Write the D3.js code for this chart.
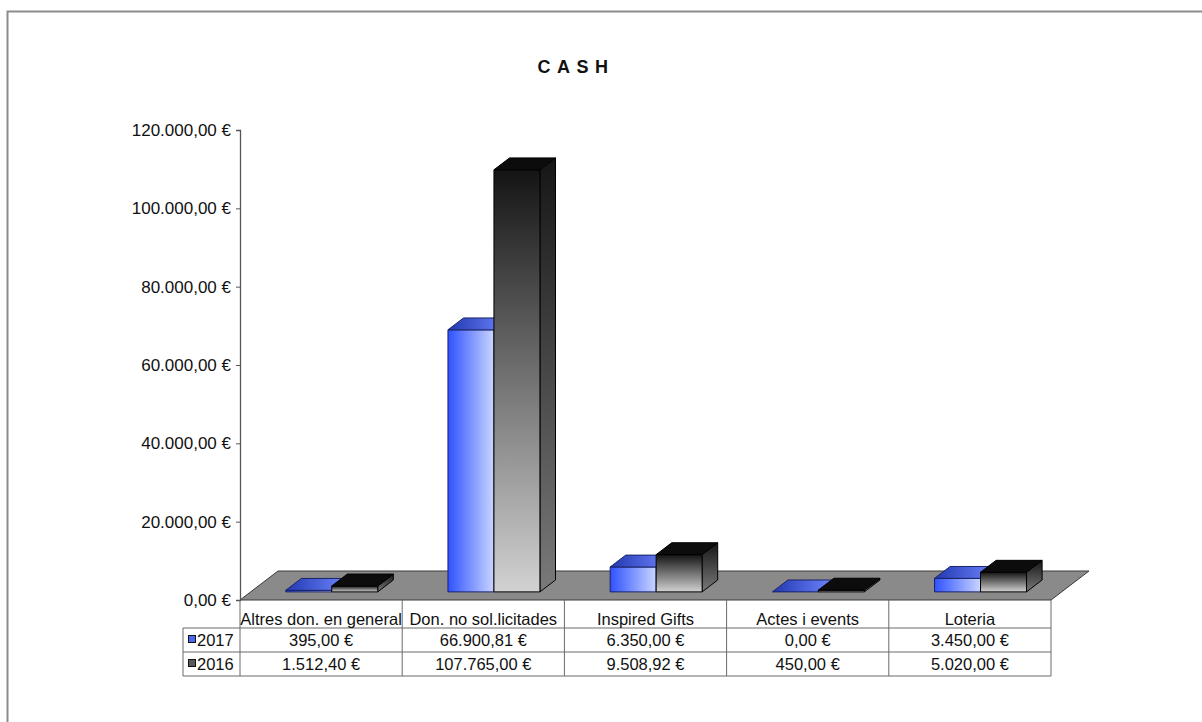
<!DOCTYPE html>
<head>
  <meta charset="utf-8">
  <title>CASH</title>
  <script src="https://cdn.jsdelivr.net/npm/d3@7/dist/d3.min.js"></script>
</head>

<style>
  body {
    margin: 0;
    background: #fff;
  }

  svg text {
    font-family: "Liberation Sans", Arial, sans-serif;
    fill: #111;
  }

  .cell {
    font-size: 16.5px;
  }

  .title {
    font-size: 18px;
    font-weight: bold;
    letter-spacing: 6.5px;
  }

  .grid-line {
    stroke: #6a6a6a;
    stroke-width: 1;
  }
</style>

<body>
  <svg id='chart'></svg>
</body>

<script>

var width = 1202,
    height = 722;

var categories = ['Altres don. en general', 'Don. no sol.licitades', 'Inspired Gifts', 'Actes i events', 'Loteria'];
var series = ['2017', '2016'];
var values_2017 = [395, 66900.81, 6350, 0, 3450];
var values_2016 = [1512.40, 107765, 9508.92, 450, 5020];
var y_ticks = [0, 20000, 40000, 60000, 80000, 100000, 120000];

var series_values = {'2017': values_2017, '2016': values_2016};

var locale = d3.formatLocale({decimal: ',', thousands: '.', grouping: [3], currency: ['', ' €']});
var euro = locale.format('$,.2f');

// 3d look: depth vector of the floor, bars sit between d0 and d1
var depth = {dx: 38, dy: -29},
    d0 = 0.28,
    d1 = 0.69,
    cluster_frac = 0.567;

var svg = d3.select('#chart')
  .attr('width', width)
  .attr('height', height);

var defs = svg.append('defs');

function lin_grad(id, x2, y2, stops) {
  var g = defs.append('linearGradient')
    .attr('id', id)
    .attr('x1', 0).attr('y1', 0)
    .attr('x2', x2).attr('y2', y2);
  stops.forEach(function(s) {
    g.append('stop').attr('offset', s[0]).attr('stop-color', s[1]);
  });
}

lin_grad('blue-front', 1, 0, [[0, '#2f52ff'], [1, '#c9d5ff']]);
lin_grad('blue-top', 1, 0, [[0, '#2238b0'], [1, '#6f86ff']]);
lin_grad('blue-side', 0, 1, [[0, '#1d2f9a'], [1, '#4660e0']]);
lin_grad('gray-front', 0, 1, [[0, '#141414'], [1, '#d2d2d2']]);
lin_grad('gray-side', 0, 1, [[0, '#161616'], [1, '#7a7a7a']]);

var fills = {
  '2017': {front: 'url(#blue-front)', top: 'url(#blue-top)', side: 'url(#blue-side)', stroke: '#1a2366'},
  '2016': {front: 'url(#gray-front)', top: '#0c0c0c', side: 'url(#gray-side)', stroke: '#000'}
};

// outer frame (only top and left edges show in the picture)
svg.append('rect')
  .attr('x', 7.5).attr('y', 11.5)
  .attr('width', 1300).attr('height', 900)
  .attr('fill', 'none')
  .attr('stroke', '#8c8c8c')
  .attr('stroke-width', 2);

svg.append('text')
  .attr('class', 'title')
  .attr('x', 576)
  .attr('y', 73)
  .attr('text-anchor', 'middle')
  .text('CASH');

var x = d3.scaleBand()
  .domain(categories)
  .range([240, 1051])
  .padding(0);

var y = d3.scaleLinear()
  .domain([0, 120000])
  .range([600, 130]);

function p(px, py, d) {
  return [px + d * depth.dx, py + d * depth.dy];
}

function poly(pts) {
  return 'M' + pts.map(function(q) { return q[0] + ',' + q[1]; }).join('L') + 'Z';
}

// floor
var x0 = x.range()[0], x1 = x.range()[1], yb = y(0);
svg.append('path')
  .attr('d', poly([p(x0, yb, 0), p(x1, yb, 0), p(x1, yb, 1), p(x0, yb, 1)]))
  .attr('fill', '#8a8a8a')
  .attr('stroke', '#3a3a3a')
  .attr('stroke-width', 1);

// y axis
var y_axis = d3.axisLeft(y)
  .tickValues(y_ticks)
  .tickSize(4)
  .tickPadding(5)
  .tickFormat(euro);

var ax = svg.append('g')
  .attr('transform', 'translate(' + x0 + ',0)')
  .call(y_axis);

ax.select('.domain').attr('stroke', '#555').attr('stroke-width', 1.3);
ax.selectAll('.tick line').attr('stroke', '#555');
ax.selectAll('.tick text')
  .attr('fill', '#111')
  .style('font-size', '17px')
  .style('font-family', '"Liberation Sans", Arial, sans-serif');

// bars
var cluster = d3.scaleBand()
  .domain(series)
  .padding(0);

var bars = svg.append('g');

categories.forEach(function(cat, ci) {
  var cw = x.bandwidth() * cluster_frac,
      cx = x(cat) + x.bandwidth() / 2;
  cluster.range([cx - cw / 2, cx + cw / 2]);

  series.forEach(function(s) {
    var v = series_values[s][ci],
        xl = cluster(s),
        xr = xl + cluster.bandwidth(),
        yt = y(v),
        f = fills[s];

    var g = bars.append('g')
      .attr('stroke', f.stroke)
      .attr('stroke-width', 1)
      .attr('stroke-linejoin', 'round');

    if (yb - yt > 0.5) {
      g.append('path')
        .attr('d', poly([p(xr, yb, d0), p(xr, yb, d1), p(xr, yt, d1), p(xr, yt, d0)]))
        .attr('fill', f.side);
      g.append('path')
        .attr('d', poly([p(xl, yb, d0), p(xr, yb, d0), p(xr, yt, d0), p(xl, yt, d0)]))
        .attr('fill', f.front);
    }
    g.append('path')
      .attr('d', poly([p(xl, yt, d0), p(xr, yt, d0), p(xr, yt, d1), p(xl, yt, d1)]))
      .attr('fill', f.top);
  });
});

// data table
var table = svg.append('g');
var row_y = [600, 628, 652, 676],
    legend_x = 183;

x.domain().forEach(function(cat) {
  table.append('line').attr('class', 'grid-line')
    .attr('x1', x(cat)).attr('x2', x(cat))
    .attr('y1', row_y[0]).attr('y2', row_y[3]);
});
table.append('line').attr('class', 'grid-line')
  .attr('x1', x1).attr('x2', x1)
  .attr('y1', row_y[0]).attr('y2', row_y[3]);
table.append('line').attr('class', 'grid-line')
  .attr('x1', legend_x).attr('x2', legend_x)
  .attr('y1', row_y[1]).attr('y2', row_y[3]);
[1, 2, 3].forEach(function(r) {
  table.append('line').attr('class', 'grid-line')
    .attr('x1', legend_x).attr('x2', x1)
    .attr('y1', row_y[r]).attr('y2', row_y[r]);
});

table.selectAll('text.head')
  .data(categories)
  .enter()
  .append('text')
  .attr('class', 'cell head')
  .attr('x', function(d) { return x(d) + x.bandwidth() / 2; })
  .attr('y', 625)
  .attr('text-anchor', 'middle')
  .text(function(d) { return d; });

var key_fill = {'2017': '#4a68f0', '2016': '#5a5a5a'};

series.forEach(function(s, si) {
  var ty = row_y[si + 1],
      mid = ty + (row_y[si + 2] - ty) / 2;

  table.append('rect')
    .attr('x', legend_x + 5.5).attr('y', mid - 4.5)
    .attr('width', 7).attr('height', 7)
    .attr('fill', key_fill[s])
    .attr('stroke', '#111');

  table.append('text')
    .attr('class', 'cell')
    .attr('x', legend_x + 14)
    .attr('y', mid + 6)
    .text(s);

  table.selectAll('text.v' + s)
    .data(series_values[s])
    .enter()
    .append('text')
    .attr('class', 'cell v' + s)
    .attr('x', function(_, i) { return x(categories[i]) + x.bandwidth() / 2; })
    .attr('y', mid + 6)
    .attr('text-anchor', 'middle')
    .text(function(d) { return euro(d); });
});

</script>
